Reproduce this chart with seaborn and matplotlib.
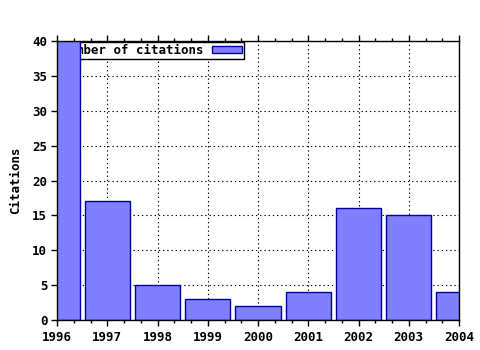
import matplotlib
matplotlib.use("Agg")
import matplotlib.pyplot as plt
from matplotlib.ticker import MultipleLocator
import seaborn as sns
import pandas as pd

years = [1996, 1997, 1998, 1999, 2000, 2001, 2002, 2003, 2004]
citations = [45, 17, 5, 3, 2, 4, 16, 15, 4]
series_label = "Number of citations"

sns.set_style("white")
plt.rcParams['font.family'] = ['DejaVu Sans Mono']
plt.rcParams['font.weight'] = 'bold'
for k in ['text.color', 'axes.labelcolor', 'xtick.color', 'ytick.color']:
    plt.rcParams[k] = 'black'

df = pd.DataFrame({"year": years, "citations": citations})

fig = plt.figure(figsize=(4.8, 3.5), dpi=100)
ax = fig.add_axes([57/480, 1-320/350, (459-57)/480, (320-41)/350])

sns.barplot(data=df, x="year", y="citations", native_scale=True, width=0.9,
            color="#8080ff", saturation=1, edgecolor="#0000a0", linewidth=1.0,
            label=series_label, ax=ax, zorder=3)
for p in ax.patches:
    p.set_facecolor("#8080ff")
    p.set_zorder(3)

ax.set_xlim(1996, 2004)
ax.set_ylim(0, 40)
ax.xaxis.set_major_locator(MultipleLocator(1))
ax.xaxis.set_minor_locator(MultipleLocator(1/3))
ax.yaxis.set_major_locator(MultipleLocator(5))
ax.set_xticks(years)
ax.set_xticklabels([str(y) for y in years])

ax.grid(True, which='major', color='black', linestyle=(0, (1.2, 2.6)), linewidth=0.8)
ax.set_axisbelow(True)
for s in ax.spines.values():
    s.set_color('black')
    s.set_linewidth(1.0)
    s.set_zorder(4)

ax.tick_params(axis='x', which='both', direction='out', top=True, bottom=True,
               length=4, width=1, color='black', labelcolor='black', labelsize=9, pad=4)
ax.tick_params(axis='x', which='minor', length=2)
ax.tick_params(axis='y', which='major', direction='out', left=True, right=False,
               length=4, width=1, color='black', labelcolor='black', labelsize=9, pad=3)
for lab in ax.get_xticklabels() + ax.get_yticklabels():
    lab.set_fontweight('bold')

ax.set_xlabel("")
ax.set_ylabel("Citations", fontsize=9, fontweight='bold', labelpad=7, color='black')

leg = ax.legend(loc='upper left', bbox_to_anchor=(0.005, 0.995), markerfirst=False,
                frameon=True, fancybox=False, framealpha=1, edgecolor='black',
                prop={'size': 9, 'weight': 'bold'}, handlelength=2.4,
                handleheight=0.5, borderpad=0.15, borderaxespad=0,
                handletextpad=0.7, labelcolor='black')
leg.get_frame().set_linewidth(1.0)
leg.set_zorder(2.5)

fig.savefig("out.png", dpi=100)
